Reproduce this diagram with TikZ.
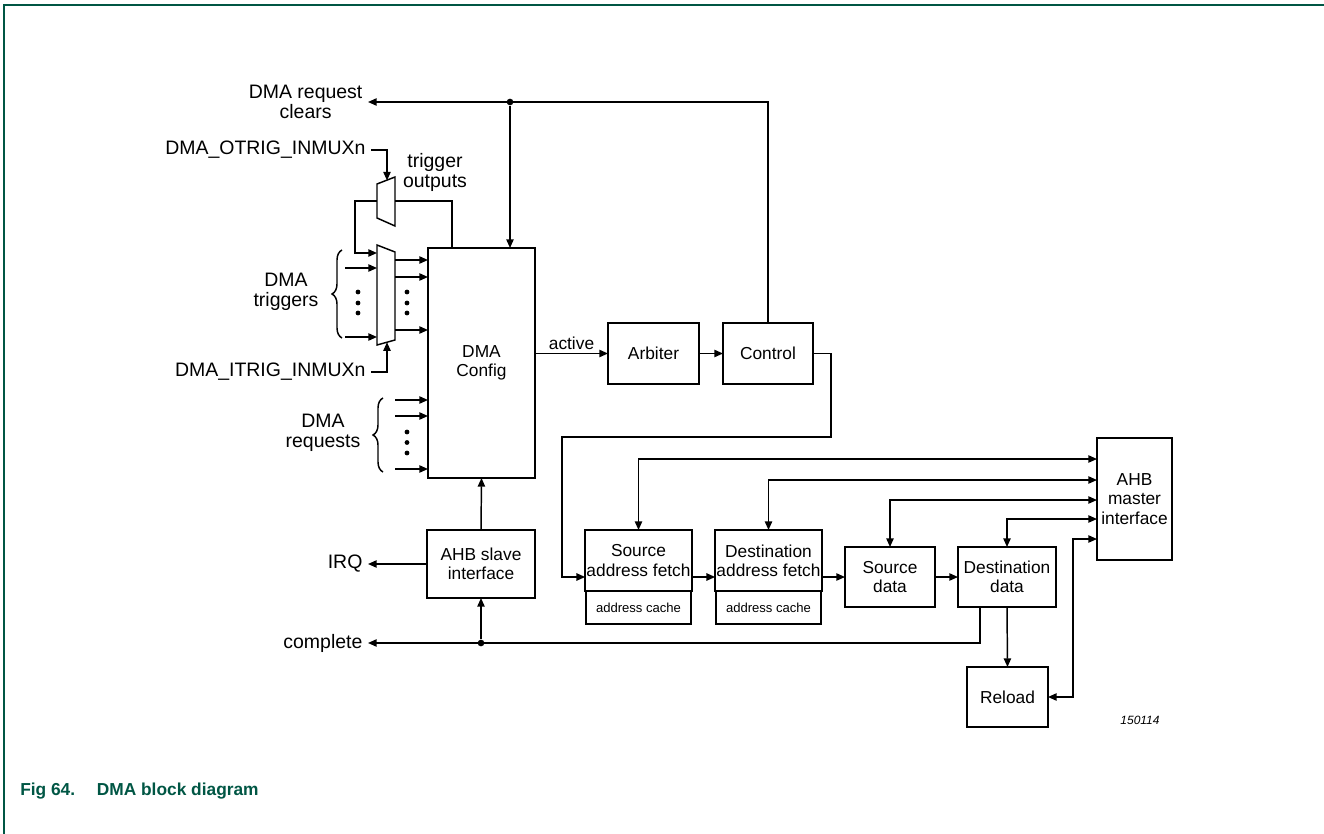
\documentclass[tikz,border=0pt]{standalone}
\usepackage{fontspec}
\setmainfont{Liberation Sans}
\usepackage{tikz}
\usetikzlibrary{arrows.meta,positioning,decorations.pathreplacing,calc}
\definecolor{FrameGreen}{RGB}{0,86,68}
\newcommand{\mainfnt}{\fontsize{13}{14.4}\selectfont}
\newcommand{\lblfnt}{\fontsize{14.6}{15}\selectfont}
\newcommand{\cachefnt}{\fontsize{9.8}{11.5}\selectfont}
\tikzset{
    blk/.style={draw, line width=2pt, inner sep=1pt, outer sep=0pt, align=center, font=\mainfnt},
    cache/.style={blk, font=\cachefnt},
    lbl/.style={inner sep=4pt, align=center, font=\lblfnt},
    arr/.style={-{Triangle[length=6.5pt,width=5.5pt]}, line width=1.1pt},
    dbl/.style={{Triangle[length=6.5pt,width=5.5pt]}-{Triangle[length=6.5pt,width=5.5pt]}, line width=1.1pt},
    wire/.style={line width=1.1pt},
    muxshape/.style={line width=1.1pt},
    brc/.style={decorate, decoration={brace, amplitude=7.5pt}, line width=1.1pt},
    jdot/.style={circle, fill, inner sep=0pt, minimum size=5pt},
}

\begin{document}
\begin{tikzpicture}[x=0.75pt, y=-0.75pt]
\useasboundingbox (0,0) rectangle (1324,834);
\draw[FrameGreen, line width=1.1pt] (4,834) -- (4,5) -- (1324,5);

% blocks
\node[blk, minimum width=80.25pt, minimum height=172.5pt] (cfg) at (481.5,363) {DMA\\Config};
\node[blk, minimum width=68.25pt, minimum height=45.75pt] (arb) at (653.5,353.5) {Arbiter};
\node[blk, minimum width=67.5pt, minimum height=45.75pt] (ctl) at (768,353.5) {Control};
\node[blk, minimum width=81pt, minimum height=51pt] (slv) at (481,564) {AHB slave\\interface};
\node[blk, minimum width=78.75pt, minimum height=45.75pt] (saf) at (638.5,560.5) {Source\\address fetch};
\node[cache, minimum width=78.75pt, minimum height=24.75pt, below=0pt of saf] (safc) {address cache};
\node[blk, minimum width=78.75pt, minimum height=45.75pt] (daf) at (768.5,560.5) {Destination\\address fetch};
\node[cache, minimum width=78.75pt, minimum height=24.75pt, below=0pt of daf] (dafc) {address cache};
\node[blk, minimum width=67.5pt, minimum height=45pt] (sd) at (890,577) {Source\\data};
\node[blk, minimum width=73.5pt, minimum height=45pt] (dd) at (1007,577) {Destination\\data};
\node[blk, minimum width=56.25pt, minimum height=91.5pt] (ahb) at (1134.5,499) {AHB\\master\\interface};
\node[blk, minimum width=60.75pt, minimum height=45pt] (rld) at (1007.5,697) {Reload};

% labels
\node[lbl, anchor=east] (clrlbl) at (368,102) {DMA request\\clears};
\node[lbl, anchor=east] (otrig) at (371,150) {DMA\_OTRIG\_INMUXn};
\node[lbl] (trgout) at (435,172) {trigger\\outputs};
\node[lbl, anchor=east] (itrig) at (371,372) {DMA\_ITRIG\_INMUXn};
\node[lbl] (trglbl) at (286,292) {DMA\\triggers};
\node[lbl] (reqlbl) at (323,433) {DMA\\requests};
\node[lbl, anchor=east] (irq) at (368,564) {IRQ};
\node[lbl, anchor=east] (cmplbl) at (368,643) {complete};
\node[font=\fontsize{9}{11}\selectfont\itshape] (figid) at (1140,720) {150114};
\node[anchor=base west, inner sep=0pt, text=FrameGreen, font=\fontsize{13}{15}\selectfont\bfseries] (cap) at (20,795) {Fig 64.\hspace{1.25em}DMA block diagram};

% trigger muxes
\draw[muxshape] (377,184) -- (395,177) -- (395,226) -- (377,218) -- cycle;
\draw[muxshape] (377,245) -- (395,252) -- (395,340) -- (377,345) -- cycle;
\coordinate (osel) at (387,180.5);
\coordinate (isel) at (387,342.2);
\coordinate (omuxR) at (395,201);
\coordinate (omuxL) at (377,201);
\coordinate (fbbend) at (355,253);
\coordinate (imuxfb) at (377,253);

\draw[arr] (otrig.east) -| (osel);
\draw[arr] (itrig.east) -| (isel);
\draw[wire] ([xshift=18pt]cfg.north west) |- (omuxR);
\draw[arr] (omuxL) -| (fbbend) -- (imuxfb);
\foreach \yy in {268,337}
    \draw[arr] (345,\yy) -- (377,\yy);
\foreach \yy in {260,277,330}
    \draw[arr] (395,\yy) -- (cfg.west |- 0,\yy);
\foreach \yy in {400,416,469}
    \draw[arr] (395,\yy) -- (cfg.west |- 0,\yy);
\foreach \yy in {292,303,313} {
    \fill (358,\yy) circle (1.8pt);
    \fill (407,\yy) circle (1.8pt);
}
\foreach \yy in {432,442.5,453}
    \fill (407,\yy) circle (1.8pt);
\draw[brc] (342,338) -- (342,250);
\draw[brc] (383,472) -- (383,398);

% request clears
\draw[arr] (ctl.north) |- (clrlbl.east);
\node[jdot] (jclr) at (510,102) {};
\draw[arr] (jclr) -- (jclr |- cfg.north);

% channel flow
\draw[arr] (cfg.east |- arb.west) -- (arb.west) node[midway, above, inner sep=2pt, font=\mainfnt] {active};
\draw[arr] (arb) -- (ctl);
\coordinate (ctlturn) at (831,437);
\coordinate (safturn) at (562,577);
\draw[arr] (ctl.east) -| (ctlturn) -| (safturn) -- (saf.west |- sd.west);
\draw[arr] (saf.east |- sd.west) -- (daf.west |- sd.west);
\draw[arr] (daf.east |- sd.west) -- (sd.west);
\draw[arr] (sd) -- (dd);
\draw[arr] (dd.south) -- (rld.north);

% AHB master
\draw[dbl] (saf.north) |- (ahb.west |- 0,459);
\draw[dbl] (daf.north) |- (ahb.west |- 0,480);
\draw[dbl] (sd.north) |- (ahb.west |- 0,500);
\draw[dbl] (dd.north) |- (ahb.west |- 0,519);
\draw[dbl] (ahb.west |- 0,539) -| ([xshift=18.75pt]rld.east) -- (rld.east);

% AHB slave
\node[jdot] (jcmp) at (slv.south |- cmplbl.east) {};
\draw[arr] ([xshift=16.5pt]dd.south west) |- (cmplbl.east);
\draw[arr] (jcmp) -- (slv.south);
\draw[arr] (slv.west) -- (irq.east);
\draw[arr] (slv.north) -- (cfg.south);
\end{tikzpicture}
\end{document}
